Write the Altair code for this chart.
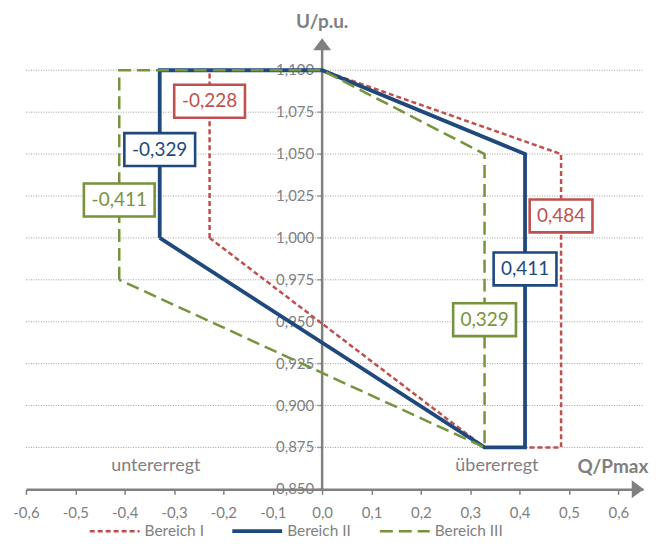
import altair as alt
import pandas as pd

series = ["Bereich I", "Bereich II", "Bereich III"]
colors = ["#C0504D", "#1F497D", "#77933C"]
text_colors = ["#C0504D", "#1F497D", "#9BBB59"]

q_I = [-0.228, -0.228, 0.0, 0.484, 0.484, 0.329, -0.228]
u_I = [1.000, 1.100, 1.100, 1.050, 0.875, 0.875, 1.000]
q_II = [-0.329, -0.329, 0.0, 0.411, 0.411, 0.329, -0.329]
u_II = [1.000, 1.100, 1.100, 1.050, 0.875, 0.875, 1.000]
q_III = [-0.411, -0.411, 0.0, 0.329, 0.329, -0.411]
u_III = [0.975, 1.100, 1.100, 1.050, 0.875, 0.975]

label_text = ["-0,228", "-0,329", "-0,411", "0,484", "0,411", "0,329"]
label_series = ["Bereich I", "Bereich II", "Bereich III", "Bereich I", "Bereich II", "Bereich III"]
label_q = [-0.228, -0.329, -0.411, 0.484, 0.411, 0.329]
label_u = [1.0815, 1.0527, 1.0226, 1.0131, 0.9815, 0.9512]

y_ticks = [0.850, 0.875, 0.900, 0.925, 0.950, 0.975, 1.000, 1.025, 1.050, 1.075, 1.100]
y_tick_labels = ["0,850", "0,875", "0,900", "0,925", "0,950", "0,975", "1,000", "1,025", "1,050", "1,075", "1,100"]
x_ticks = [-0.6, -0.5, -0.4, -0.3, -0.2, -0.1, 0.0, 0.1, 0.2, 0.3, 0.4, 0.5, 0.6]

FONT = "Lato"
GREY = "#7F7F7F"

rows = []
for s, qs, us in [(series[0], q_I, u_I), (series[1], q_II, u_II), (series[2], q_III, u_III)]:
    for i, (q, u) in enumerate(zip(qs, us)):
        rows.append({"series": s, "q": q, "u": u, "order": i})
df = pd.DataFrame(rows)

lab = pd.DataFrame({"text": label_text, "series": label_series, "q": label_q, "u": label_u})
grid = pd.DataFrame({"u": y_ticks[1:], "q": -0.6, "q2": 0.65})
yt = pd.DataFrame({"u": y_ticks, "label": y_tick_labels, "q": 0.0})

xscale = alt.Scale(domain=[-0.6, 0.65], nice=False, zero=False)
yscale = alt.Scale(domain=[0.85, 1.12], nice=False, zero=False)
cscale = alt.Scale(domain=series, range=colors)
tscale = alt.Scale(domain=series, range=text_colors)

X = alt.X("q:Q", scale=xscale, axis=alt.Axis(
    values=x_ticks,
    labelExpr="replace(replace(format(datum.value, '.1f'), '.', ','), '\u2212', '-')",
    labelFlush=False, labelOverlap=False,
    grid=False, domainColor="#808080", domainWidth=2.5, tickColor="#808080",
    tickWidth=1.5, tickSize=5, labelColor=GREY, labelFontSize=15, labelFont=FONT,
    labelPadding=11, title=None))
Y = alt.Y("u:Q", scale=yscale, axis=None)

gridlines = alt.Chart(grid).mark_rule(color="#A0A0A0", strokeWidth=1, strokeDash=[1, 1.5]).encode(
    x=X, x2="q2:Q", y=Y)

yaxis_line = alt.Chart(pd.DataFrame({"q": [0.0], "u": [0.85], "u2": [1.113]})).mark_rule(
    color="#808080", strokeWidth=2.5).encode(x=X, y=Y, y2="u2:Q")
ytick_marks = alt.Chart(yt).mark_tick(orient="horizontal", color="#808080", size=5,
                                      thickness=1.5, xOffset=-2.5).encode(x=X, y=Y)
ytick_labels = alt.Chart(yt).mark_text(align="right", baseline="middle", dx=-8,
                                       font=FONT, fontSize=15, color=GREY).encode(
    x=X, y=Y, text="label:N")

arrows = pd.DataFrame({"q": [0.0, 0.6394], "u": [1.1155, 0.85],
                       "shape": ["M0,-0.67L1,0.67L-1,0.67Z", "M0.67,0L-0.67,1L-0.67,-1Z"]})
arrow_marks = alt.Chart(arrows).mark_point(filled=True, opacity=1, color="#808080", size=324).encode(
    x=X, y=Y, shape=alt.Shape("shape:N", scale=None))

titles = pd.DataFrame({"q": [0.0, 0.589], "u": [1.1286, 0.8631], "text": ["U/p.u.", "Q/Pmax"]})
title_marks = alt.Chart(titles).mark_text(font=FONT, fontSize=19, fontWeight="bold", color=GREY,
                                          baseline="middle", align="center").encode(
    x=X, y=Y, text="text:N")

regions = pd.DataFrame({"q": [-0.337, 0.354], "u": [0.8637, 0.8637], "text": ["untererregt", "übererregt"]})
region_marks = alt.Chart(regions).mark_text(font=FONT, fontSize=18, color=GREY,
                                            baseline="middle", align="center").encode(
    x=X, y=Y, text="text:N")

styles = {
    "Bereich I": dict(strokeWidth=2.5, strokeDash=[5, 3]),
    "Bereich II": dict(strokeWidth=3.8),
    "Bereich III": dict(strokeWidth=2.5, strokeDash=[13, 6]),
}
line_layers = []
for s in series:
    line_layers.append(
        alt.Chart(df[df.series == s]).mark_line(strokeJoin="miter", **styles[s]).encode(
            x=X, y=Y, order="order:Q",
            color=alt.Color("series:N", scale=cscale, legend=None)))

neg = lab[lab.q < 0]
pos = lab[lab.q > 0]
box_neg = alt.Chart(neg).mark_point(filled=True, fill="white", opacity=1, strokeWidth=2.6,
                                    shape="M-1,-0.465L1,-0.465L1,0.465L-1,0.465Z", size=5041).encode(
    x=X, y=Y, stroke=alt.Stroke("series:N", scale=cscale, legend=None))
box_pos = alt.Chart(pos).mark_point(filled=True, fill="white", opacity=1, strokeWidth=2.6,
                                    shape="M-1,-0.524L1,-0.524L1,0.524L-1,0.524Z", size=3969).encode(
    x=X, y=Y, stroke=alt.Stroke("series:N", scale=cscale, legend=None))
label_marks = alt.Chart(lab).mark_text(font=FONT, fontSize=19, baseline="middle", align="center").encode(
    x=X, y=Y, text="text:N", color=alt.Color("series:N", scale=tscale, legend=None))

# legend (pixel positions relative to plot area)
leg_y = 496
leg_x0 = [64, 207, 355]
legend_layers = []
for s, x0 in zip(series, leg_x0):
    legend_layers.append(
        alt.Chart(pd.DataFrame({"series": [s]})).mark_rule(**styles[s]).encode(
            x=alt.value(x0), x2=alt.value(x0 + 50), y=alt.value(leg_y),
            color=alt.Color("series:N", scale=cscale, legend=None)))
    legend_layers.append(
        alt.Chart(pd.DataFrame({"series": [s]})).mark_text(
            font=FONT, fontSize=15.5, color=GREY, align="left", baseline="middle").encode(
            x=alt.value(x0 + 55), y=alt.value(leg_y), text="series:N"))

chart = alt.layer(
    gridlines, yaxis_line, ytick_marks, ytick_labels, region_marks, title_marks,
    *line_layers, arrow_marks, box_neg, box_pos, label_marks, *legend_layers
).properties(
    width=619, height=454,
    padding={"left": 18, "top": 28, "right": 8, "bottom": 52},
    autosize=alt.AutoSizeParams(type="none"),
).configure_view(stroke=None)

chart.save("out.html", embed_options={"renderer": "svg", "actions": False})
